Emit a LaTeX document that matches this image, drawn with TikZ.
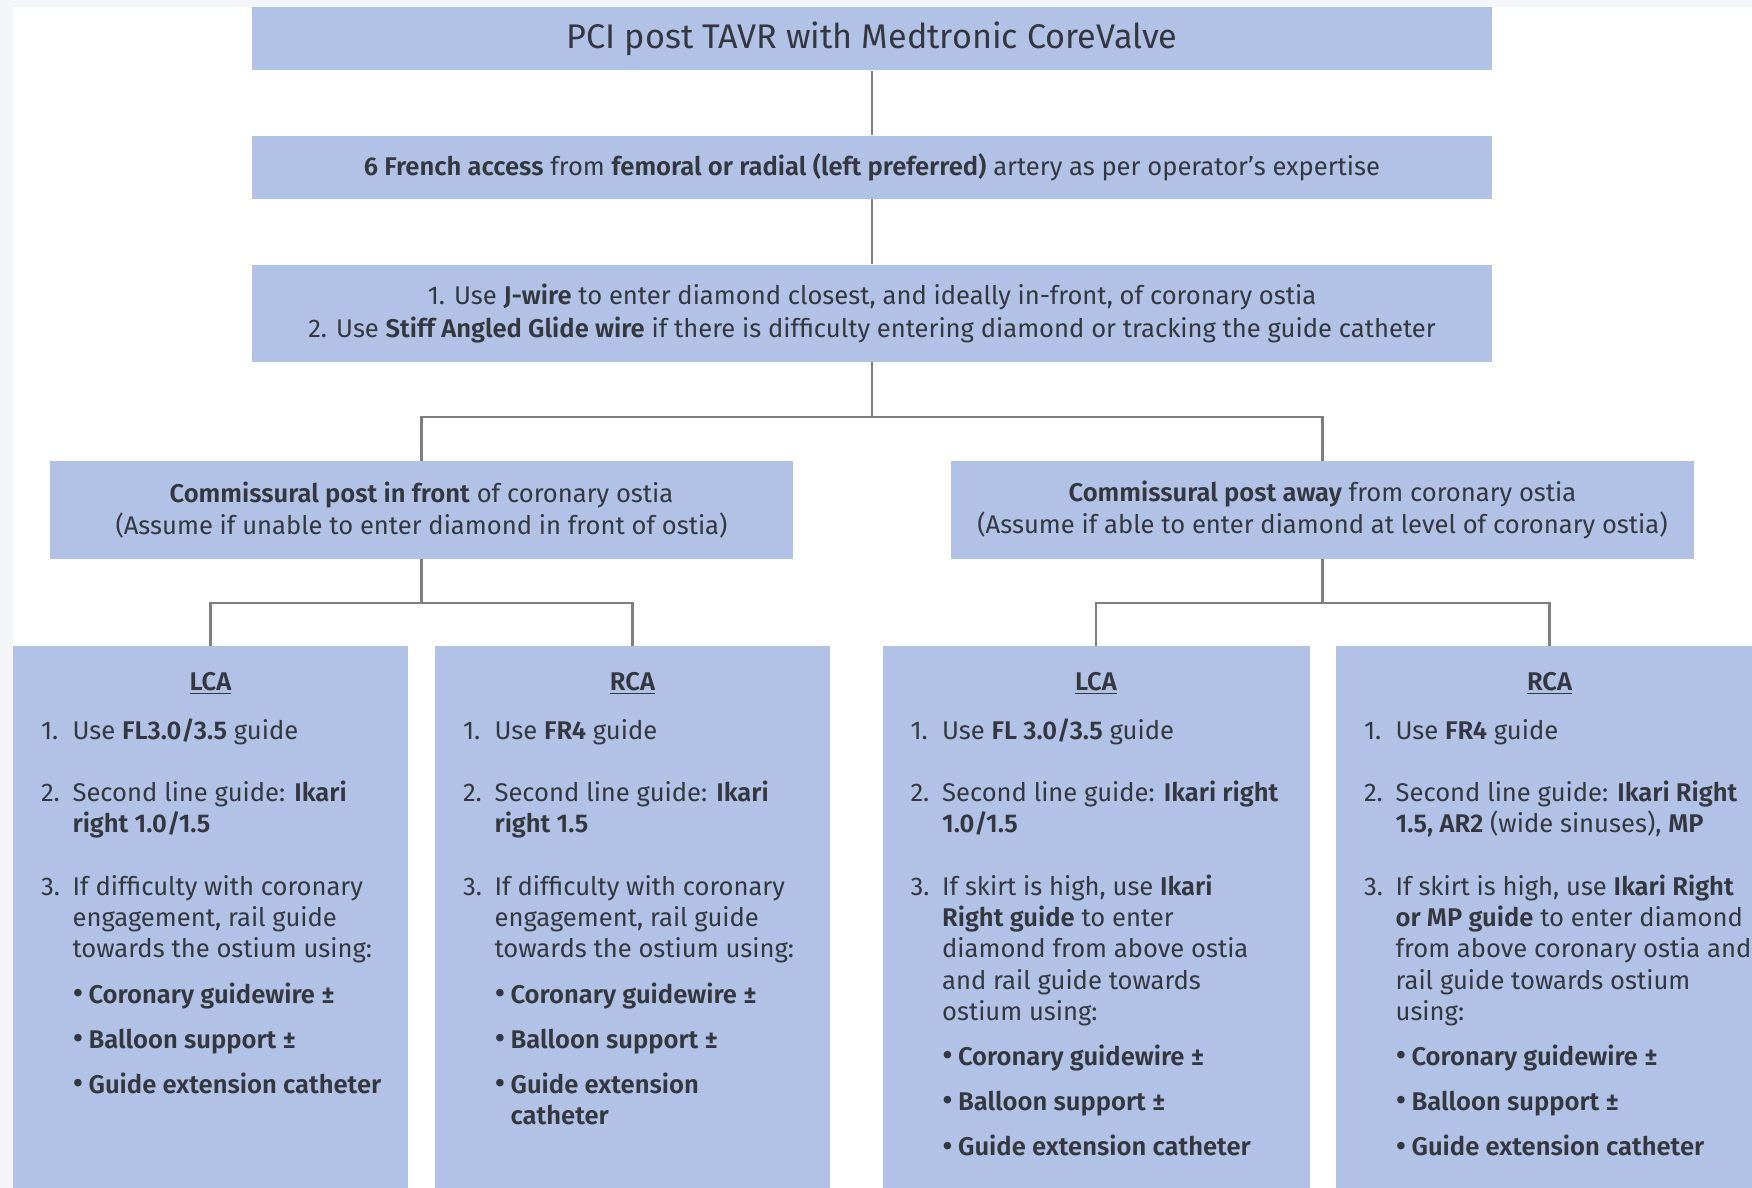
\documentclass[tikz,border=0pt]{standalone}
\usepackage{fontspec}
\usepackage{graphicx}
\setmainfont{Fira Sans}[BoldFont={Fira Sans SemiBold}]
\usetikzlibrary{positioning}

\definecolor{boxblue}{HTML}{B1C2E6}
\definecolor{inkgray}{HTML}{34373F}
\definecolor{linkgray}{HTML}{7F7F7F}
\definecolor{pagegray}{HTML}{F4F5F9}

\newlength{\lblw}\setlength{\lblw}{15.8pt}
\newlength{\bulw}\setlength{\bulw}{8pt}
\newlength{\itemgap}\setlength{\itemgap}{15.7pt}
\newlength{\dotgap}\setlength{\dotgap}{7pt}
% numbered step with hanging indent
\newcommand{\stepitem}[3][\itemgap]{\par\ifdim#1>0pt\vspace{#1}\fi
  \hangindent=\lblw\hangafter=1\noindent\makebox[\lblw][l]{#2}#3}
% bullet under a step
\newcommand{\dotitem}[1]{\par\vspace{\dotgap}%
  \hangindent=\dimexpr\lblw+\bulw\relax\hangafter=1\noindent
  \hspace*{\lblw}\makebox[\bulw][l]{\raisebox{-0.1ex}{\scalebox{1.3}{\textbullet}}}\textbf{#1}}
\newcommand{\colbody}[1]{\begin{minipage}[t]{260pt}#1\end{minipage}}

\begin{document}
\begin{tikzpicture}[x=0.5pt,y=-0.5pt,
    stepbox/.style={fill=boxblue, inner sep=0pt, text=inkgray, align=center,
      font=\fontsize{12.8pt}{16.2pt}\selectfont},
    colbox/.style={fill=boxblue, inner sep=0pt, anchor=north, minimum height=280pt},
    colhead/.style={inner sep=0pt, anchor=base, text=inkgray,
      font=\fontsize{12.8pt}{15.6pt}\selectfont\bfseries},
    coltext/.style={inner sep=0pt, anchor=base west, text=inkgray,
      font=\fontsize{12.8pt}{15.6pt}\selectfont},
    link/.style={draw=linkgray, line width=1.25pt}]
  \useasboundingbox (0,0) rectangle (1752,1188);
  \fill[pagegray] (0,0) rectangle (1752,1188);
  \fill[white] (13,7) rectangle (1752,1188);
  \clip (0,0) rectangle (1752,1188);

  % top of the tree
  \node[stepbox, minimum width=620pt, minimum height=31.5pt,
    font=\fontsize{17.1pt}{19pt}\selectfont] (title) at (872,38.7)
    {PCI post TAVR with Medtronic CoreValve};
  \node[stepbox, minimum width=620pt, minimum height=31.6pt] (access) at (872,167.3)
    {\textbf{6 French access} from \textbf{femoral or radial (left preferred)} artery as per operator's expertise};
  \node[stepbox, minimum width=620pt, minimum height=48.6pt] (wires) at (872,313.4)
    {1. Use \textbf{J-wire} to enter diamond closest, and ideally in-front, of coronary ostia\\
     2. Use \textbf{Stiff Angled Glide wire} if there is difficulty entering diamond or tracking the guide catheter};

  % commissural post
  \node[stepbox, minimum width=371.5pt, minimum height=48.6pt] (front) at (421.5,510)
    {\textbf{Commissural post in front} of coronary ostia\\
     (Assume if unable to enter diamond in front of ostia)};
  \node[stepbox, minimum width=371.5pt, minimum height=48.6pt] (away) at (1322.5,510)
    {\textbf{Commissural post away} from coronary ostia\\
     (Assume if able to enter diamond at level of coronary ostia)};

  % coronary columns
  \node[colbox, minimum width=197.5pt] (lcaFront) at (210.5,646) {};
  \node[colbox, minimum width=197.5pt] (rcaFront) at (632.5,646) {};
  \node[colbox, minimum width=213.5pt] (lcaAway) at (1096,646) {};
  \node[colbox, minimum width=213.5pt] (rcaAway) at (1549.5,646) {};

  \node[colhead] (lcaFrontHead) at ([yshift=-22pt]lcaFront.north) {\underline{LCA}};
  \node[colhead] (rcaFrontHead) at ([yshift=-22pt]rcaFront.north) {\underline{RCA}};
  \node[colhead] (lcaAwayHead) at ([yshift=-22pt]lcaAway.north) {\underline{LCA}};
  \node[colhead] (rcaAwayHead) at ([yshift=-22pt]rcaAway.north) {\underline{RCA}};

  \node[coltext] (lcaFrontText) at ([xshift=14pt,yshift=-46.5pt]lcaFront.north west) {\colbody{%
    \stepitem[0pt]{1.}{Use \textbf{FL3.0/3.5} guide}
    \stepitem{2.}{Second line guide: \textbf{Ikari\newline right 1.0/1.5}}
    \stepitem{3.}{If difficulty with coronary\newline engagement, rail guide\newline towards the ostium using:}
    \dotitem{Coronary guidewire ±}
    \dotitem{Balloon support ±}
    \dotitem{Guide extension catheter}}};
  \node[coltext] (rcaFrontText) at ([xshift=14pt,yshift=-46.5pt]rcaFront.north west) {\colbody{%
    \stepitem[0pt]{1.}{Use \textbf{FR4} guide}
    \stepitem{2.}{Second line guide: \textbf{Ikari\newline right 1.5}}
    \stepitem{3.}{If difficulty with coronary\newline engagement, rail guide\newline towards the ostium using:}
    \dotitem{Coronary guidewire ±}
    \dotitem{Balloon support ±}
    \dotitem{Guide extension\newline catheter}}};
  \node[coltext] (lcaAwayText) at ([xshift=14pt,yshift=-46.5pt]lcaAway.north west) {\colbody{%
    \stepitem[0pt]{1.}{Use \textbf{FL 3.0/3.5} guide}
    \stepitem{2.}{Second line guide: \textbf{Ikari right\newline 1.0/1.5}}
    \stepitem{3.}{If skirt is high, use \textbf{Ikari\newline Right guide} to enter\newline diamond from above ostia\newline and rail guide towards\newline ostium using:}
    \dotitem{Coronary guidewire ±}
    \dotitem{Balloon support ±}
    \dotitem{Guide extension catheter}}};
  \node[coltext] (rcaAwayText) at ([xshift=14pt,yshift=-46.5pt]rcaAway.north west) {\colbody{%
    \stepitem[0pt]{1.}{Use \textbf{FR4} guide}
    \stepitem{2.}{Second line guide: \textbf{Ikari Right\newline 1.5, AR2} (wide sinuses), \textbf{MP}}
    \stepitem{3.}{If skirt is high, use \textbf{Ikari Right\newline or MP guide} to enter diamond\newline from above coronary ostia and\newline rail guide towards ostium\newline using:}
    \dotitem{Coronary guidewire ±}
    \dotitem{Balloon support ±}
    \dotitem{Guide extension catheter}}};

  % connectors
  \coordinate (splitTop) at (872,417);
  \coordinate (splitFront) at (421.5,603);
  \coordinate (splitAway) at (1322.5,603);
  \draw[link] (title) -- (access);
  \draw[link] (access) -- (wires);
  \draw[link] (wires) -- (splitTop);
  \draw[link] (front.north) |- (splitTop) -| (away.north);
  \draw[link] (front) -- (splitFront);
  \draw[link] (lcaFront.north) |- (splitFront) -| (rcaFront.north);
  \draw[link] (away) -- (splitAway);
  \draw[link] (lcaAway.north) |- (splitAway) -| (rcaAway.north);
\end{tikzpicture}
\end{document}
